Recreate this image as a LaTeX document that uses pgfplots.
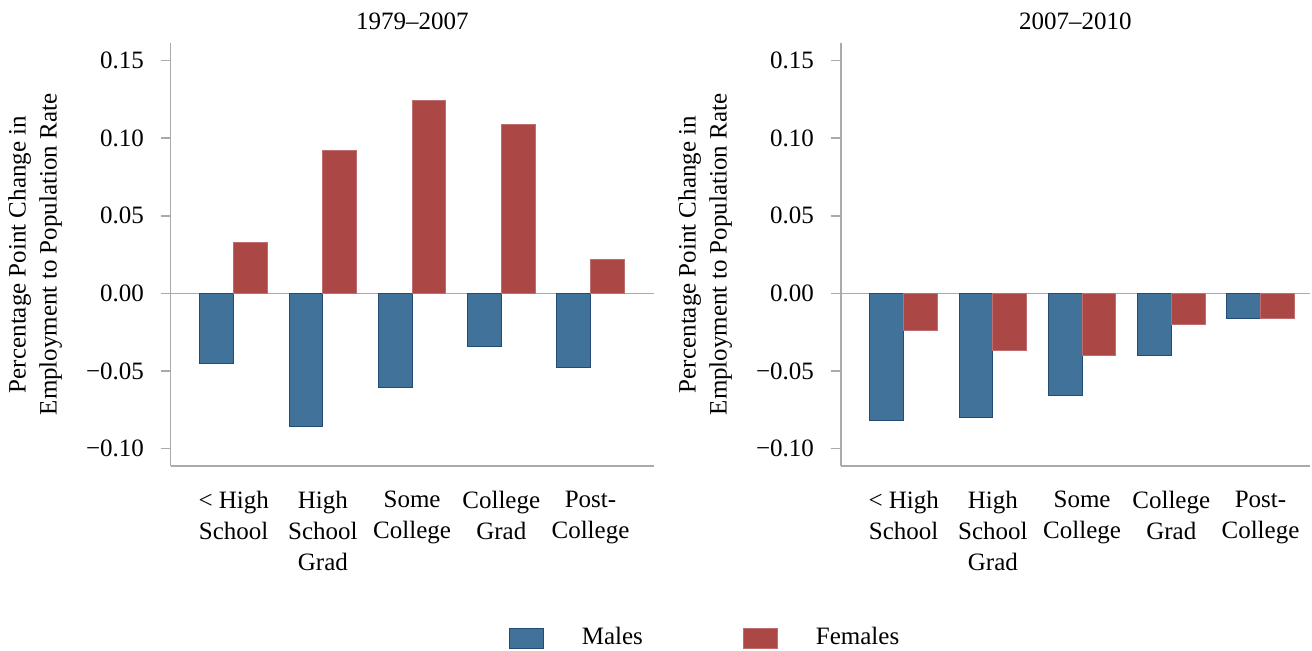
\documentclass[border=0pt]{standalone}
\usepackage{fontspec}
\setmainfont{Liberation Serif}
\usepackage{pgfplots}
\pgfplotsset{compat=1.18}
\definecolor{mblue}{RGB}{65,114,153}
\definecolor{mblueedge}{RGB}{35,75,115}
\definecolor{fred}{RGB}{171,71,68}
\definecolor{frededge}{RGB}{190,110,110}
\definecolor{axgray}{RGB}{170,170,170}
\pgfplotsset{
  panel/.style={
    scale only axis,
    height=211.5pt,
    ymin=-0.1113, ymax=0.1613,
    xmin=0.294,
    axis lines=left,
    axis line style={-, axgray, line width=0.8pt},
    ytick={-0.10,-0.05,0,0.05,0.10,0.15},
    yticklabels={−0.10,−0.05,0.00,0.05,0.10,0.15},
    ytick style={axgray, line width=0.8pt},
    tick align=outside,
    major tick length=5pt,
    yticklabel style={xshift=-4pt},
    xtick={1,2,3,4,5},
    xticklabels={{< High\\School},{High\\School\\Grad},{Some\\College},{College\\Grad},{Post-\\College}},
    xtick style={draw=none},
    xticklabel style={align=center, anchor=north, yshift=-3pt},
    title style={at={(axis description cs:0.5,1)}, anchor=base, yshift=1pt},
    ylabel={Percentage Point Change in\\Employment to Population Rate},
    clip=false,
  },
  males/.style={ybar, bar width=0.378, bar shift=-0.189, fill=mblue, draw=mblueedge, line width=0.5pt},
  females/.style={ybar, bar width=0.378, bar shift=0.189, fill=fred, draw=frededge, line width=0.5pt},
}
\begin{document}
\fontsize{12.5}{15.5}\selectfont
\begin{tikzpicture}[font=\fontsize{12.5}{15.5}\selectfont]
\useasboundingbox (0,0) rectangle (656pt,-325pt);
\begin{axis}[panel,
  at={(85.35pt,-233pt)}, anchor=south west,
  width=241.65pt, xmax=5.712,
  title={1979–2007},
  ylabel style={at={(axis description cs:-0.2805,0.5)}, anchor=center, align=center, rotate=0},
  legend columns=2,
  legend style={at={(axis description cs:1.1076,-0.4066)}, anchor=center, draw=none, fill=none,
    /tikz/every even column/.append style={column sep=48pt}},
  legend image code/.code={\fill[#1] (0pt,-5pt) rectangle (17pt,5pt); \path (34pt,0);},
]
\draw[axgray, line width=0.8pt] (axis cs:0.294,0) -- (axis cs:5.712,0);
\addplot[males] coordinates {(1,-0.045) (2,-0.086) (3,-0.061) (4,-0.034) (5,-0.048)};
\addlegendentry{Males}
\addplot[females] coordinates {(1,0.033) (2,0.092) (3,0.124) (4,0.109) (5,0.022)};
\addlegendentry{Females}
\end{axis}
\begin{axis}[panel,
  at={(420.35pt,-233pt)}, anchor=south west,
  width=234.65pt, xmax=5.555,
  title={2007–2010},
  ylabel style={at={(axis description cs:-0.289,0.5)}, anchor=center, align=center, rotate=0},
]
\draw[axgray, line width=0.8pt] (axis cs:0.294,0) -- (axis cs:5.555,0);
\addplot[males] coordinates {(1,-0.082) (2,-0.080) (3,-0.066) (4,-0.040) (5,-0.016)};
\addplot[females] coordinates {(1,-0.024) (2,-0.037) (3,-0.040) (4,-0.020) (5,-0.016)};
\end{axis}
\end{tikzpicture}
\end{document}
